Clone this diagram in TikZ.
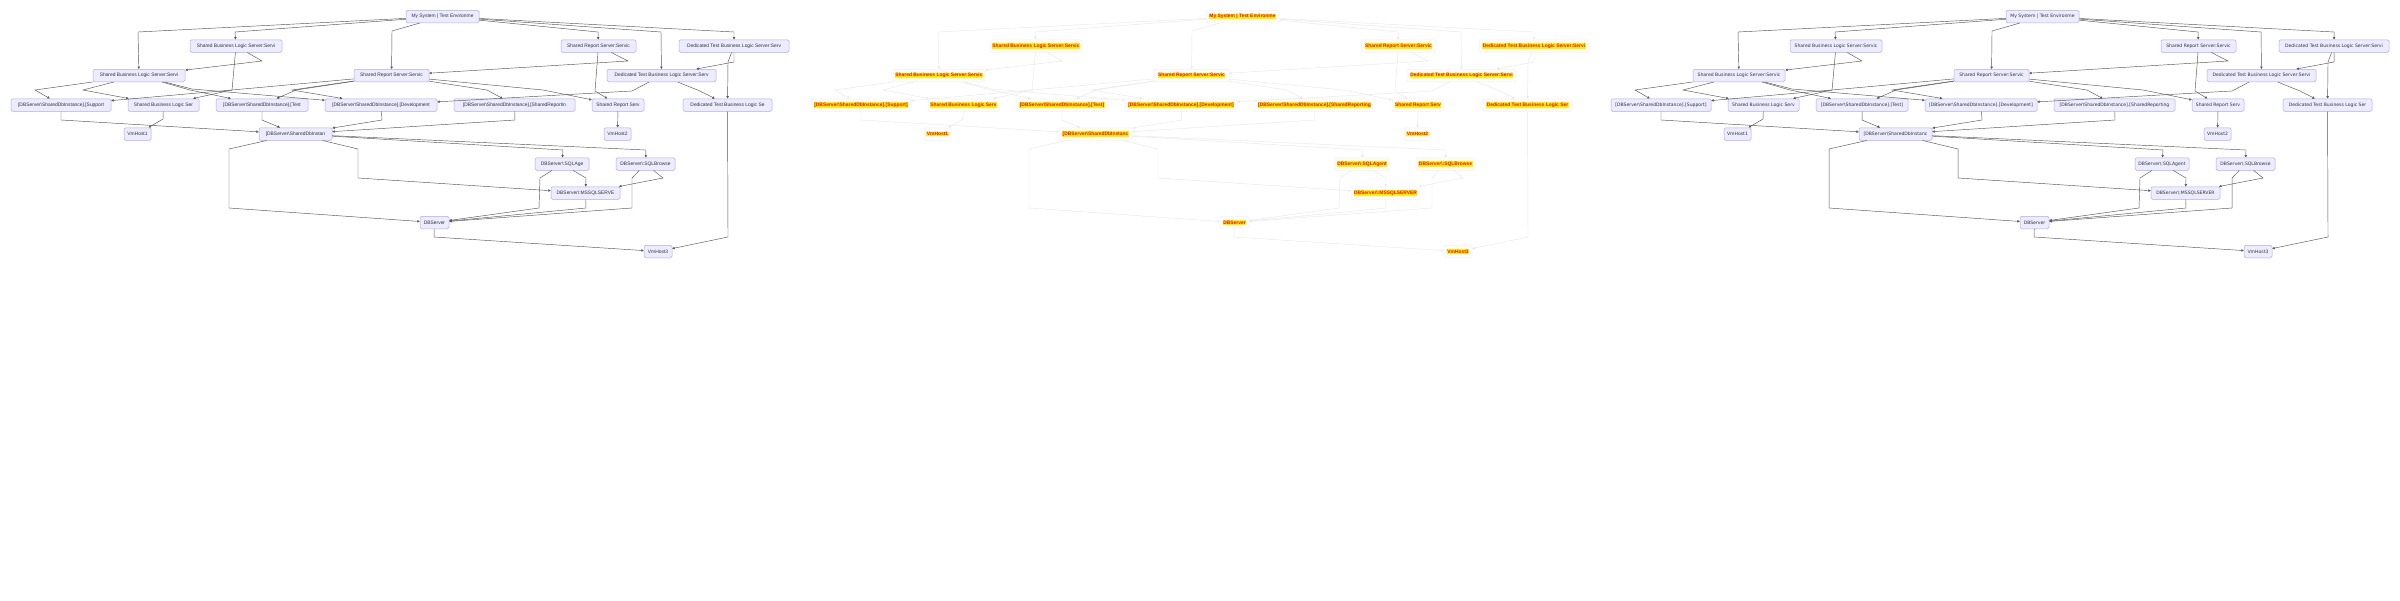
\documentclass[tikz,border=0pt]{standalone}
\usepackage{fontspec}
\usepackage{tikz}
\usetikzlibrary{arrows.meta}

\newfontfamily\arialfont{Liberation Sans}
\newfontfamily\dejafont{DejaVu Sans}

\definecolor{boxfill}{HTML}{ECECFF}
\definecolor{boxline}{HTML}{B7A6EE}
\definecolor{textgray}{HTML}{333333}
\definecolor{linkgray}{HTML}{555555}
\definecolor{ghostfill}{HTML}{FCFCFC}
\definecolor{ghostline}{HTML}{F2F2F2}
\definecolor{ghostlink}{HTML}{E8E8E8}

% which copy of the graph is drawn: 0 left, 1 middle, 2 right
\newcount\panelmode
\def\panelfont{\arialfont\fontsize{4.9}{5}\selectfont}
\newcommand{\hilite}[1]{{\setlength{\fboxsep}{0.5pt}\colorbox{yellow}{\textcolor{red}{\bfseries #1}}}}
\newcommand{\lbl}[2]{\ifcase\panelmode #1\or\hilite{#1#2}\or #1#2\fi}

\tikzset{
  box/.style={draw=boxline, fill=boxfill, rounded corners=1.5pt, line width=0.5pt,
    minimum height=12.5, inner sep=0pt, text=textgray, font=\panelfont},
  link/.style={draw=linkgray, line width=0.45pt, -{Triangle[length=2.4pt,width=2.4pt]}},
}

% one copy of the environment graph, #1 = prefix of the node names
\newcommand{\envgraph}[1]{%
  % Top
  \node[box, minimum width=73]  (#1T)   at (442.5,16.5) {\lbl{My System | Test Environme}{}};
  % Services
  \node[box, minimum width=92]  (#1A1)  at (236,46)     {\lbl{Shared Business Logic Server:Servi}{c}};
  \node[box, minimum width=75]  (#1R1)  at (598.5,46)   {\lbl{Shared Report Server:Servic}{}};
  \node[box, minimum width=110] (#1D1)  at (734,46)     {\lbl{Dedicated Test Business Logic Server:Serv}{i}};
  \node[box, minimum width=92]  (#1A2)  at (139,75.5)   {\lbl{Shared Business Logic Server:Servi}{c}};
  \node[box, minimum width=75]  (#1R2)  at (391.5,75.5) {\lbl{Shared Report Server:Servic}{}};
  \node[box, minimum width=109] (#1D2)  at (661.5,75.5) {\lbl{Dedicated Test Business Logic Server:Serv}{i}};
  % Databases and servers
  \node[box, minimum width=100] (#1Sup) at (61,105)     {\lbl{[DBServer\textbackslash SharedDbInstance].[Support}{]}};
  \node[box, minimum width=71]  (#1A3)  at (163.5,105)  {\lbl{Shared Business Logic Ser}{v}};
  \node[box, minimum width=92]  (#1Tst) at (262,105)    {\lbl{[DBServer\textbackslash SharedDbInstance].[Test}{]}};
  \node[box, minimum width=112] (#1Dev) at (381,105)    {\lbl{[DBServer\textbackslash SharedDbInstance].[Development}{]}};
  \node[box, minimum width=121] (#1SRp) at (514.5,105)  {\lbl{[DBServer\textbackslash SharedDbInstance].[SharedReportin}{g}};
  \node[box, minimum width=52]  (#1R3)  at (618,105)    {\lbl{Shared Report Serv}{}};
  \node[box, minimum width=89]  (#1D3)  at (727.5,105)  {\lbl{Dedicated Test Business Logic Se}{r}};
  \node[box, minimum width=27]  (#1V1)  at (137.5,134)  {\lbl{VmHost1}{}};
  \node[box, minimum width=73]  (#1Ins) at (295.5,134)  {\lbl{[DBServer\textbackslash SharedDbInstan}{c}};
  \node[box, minimum width=27]  (#1V2)  at (617.5,134)  {\lbl{VmHost2}{}};
  \node[box, minimum width=54]  (#1Agt) at (562,164)    {\lbl{DBServer\textbackslash:SQLAge}{nt}};
  \node[box, minimum width=59]  (#1Brw) at (645.5,164)  {\lbl{DBServer\textbackslash:SQLBrowse}{}};
  \node[box, minimum width=69]  (#1MSS) at (585.5,193)  {\lbl{DBServer\textbackslash:MSSQLSERVE}{R}};
  \node[box, minimum width=29]  (#1DB)  at (434.5,222.5){\lbl{DBServer}{}};
  \node[box, minimum width=28]  (#1V3)  at (658,251.5)  {\lbl{VmHost3}{}};
  % Edges from the top
  \draw[link] (#1T) -- (138,32) -- (#1A2);
  \draw[link] (#1T) -- (235,32) -- (#1A1);
  \draw[link] (#1T) -- (392,31) -- (#1R2);
  \draw[link] (#1T) -- (598,32) -- (#1R1);
  \draw[link] (#1T) -- (661,32) -- (#1D2);
  \draw[link] (#1T) -- (734,32) -- (#1D1);
  % Service to service
  \draw[link] (#1A1) -- (262,61) -- (#1A2);
  \draw[link] (#1A1) -- (232,90) -- (#1A3);
  \draw[link] (#1R1) -- (628,61) -- (#1R2);
  \draw[link] (#1R1) -- (595,91) -- (#1R3);
  \draw[link] (#1D1) -- (734,62) -- (#1D2);
  \draw[link] (#1D1) -- (728,62) -- (#1D3);
  % Services to databases and servers
  \draw[link] (#1A2) -- (35,90) -- (#1Sup);
  \draw[link] (#1A2) -- (190,90) -- (#1Tst);
  \draw[link] (#1A2) -- (192,89) -- (#1Dev);
  \draw[link] (#1A2) -- (83,90) -- (#1A3);
  \draw[link] (#1R2) -- (232,90) -- (#1Sup);
  \draw[link] (#1R2) -- (292,90) -- (#1Dev);
  \draw[link] (#1R2) -- (296,90) -- (#1Tst);
  \draw[link] (#1R2) -- (487,90) -- (#1SRp);
  \draw[link] (#1R2) -- (543,90) -- (#1R3);
  \draw[link] (#1D2) -- (632,91) -- (#1Dev);
  \draw[link] (#1D2) -- (700,91) -- (#1D3);
  % Databases to the instance, servers to hosts
  \draw[link] (#1Sup) -- (61,120) -- (#1Ins);
  \draw[link] (#1Tst) -- (262,120) -- (#1Ins);
  \draw[link] (#1Dev) -- (382,120) -- (#1Ins);
  \draw[link] (#1SRp) -- (515,120) -- (#1Ins);
  \draw[link] (#1A3) -- (163,119) -- (#1V1);
  \draw[link] (#1R3) -- (#1V2);
  % Instance and SQL services
  \draw[link] (#1Ins) -- (563,150) -- (#1Agt);
  \draw[link] (#1Ins) -- (646,150) -- (#1Brw);
  \draw[link] (#1Ins) -- (358,149) -- (358,178) -- (#1MSS);
  \draw[link] (#1Ins) -- (229,149) -- (229,208) -- (#1DB);
  \draw[link] (#1Agt) -- (586,178) -- (#1MSS);
  \draw[link] (#1Agt) -- (540,178) -- (539,208) -- (#1DB);
  \draw[link] (#1MSS) -- (586,208) -- (#1DB);
  \draw[link] (#1Brw) -- (632,178) -- (632,208) -- (#1DB);
  \draw[link] (#1Brw) -- (663,178) -- (#1MSS);
  % Hosts
  \draw[link] (#1DB) -- (434,237) -- (#1V3);
  \draw[link] (#1D3) -- (728,237) -- (#1V3);
}

\begin{document}
\begin{tikzpicture}[x=1pt,y=-1pt]
\useasboundingbox[fill=white] (0,0) rectangle (2400,600);

% left copy
\panelmode=0
\envgraph{l}

% middle copy, faded with marked text
\panelmode=1
\begin{scope}[xshift=800pt, box/.append style={fill=ghostfill, draw=ghostline},
  link/.append style={draw=ghostlink}]
\envgraph{m}
\end{scope}

% right copy
\panelmode=2
\def\panelfont{\dejafont\fontsize{4.55}{5}\selectfont}
\begin{scope}[xshift=1600pt]
\envgraph{r}
\end{scope}

\end{tikzpicture}
\end{document}
